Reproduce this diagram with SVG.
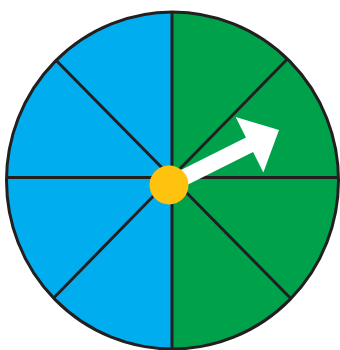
<svg xmlns="http://www.w3.org/2000/svg" width="340" height="350" viewBox="0 0 340 350">
  <style>
    .div { stroke: #231F20; stroke-width: 3; fill: none; }
  </style>
  <defs>
    <clipPath id="disc">
      <ellipse cx="172.5" cy="180.5" rx="166" ry="168.5"/>
    </clipPath>
  </defs>
  <rect width="340" height="350" fill="#ffffff"/>
  <g id="wheel">
    <g clip-path="url(#disc)">
      <rect x="0" y="0" width="172" height="350" fill="#00AEEF"/>
      <rect x="172" y="0" width="168" height="350" fill="#00A14B"/>
      <line class="div" x1="172" y1="0" x2="172" y2="350"/>
      <line class="div" x1="0" y1="177.5" x2="340" y2="177.5"/>
      <line class="div" x1="40" y1="44" x2="310" y2="318"/>
      <line class="div" x1="305" y1="41" x2="38" y2="314"/>
    </g>
    <ellipse class="div" cx="172.5" cy="180.5" rx="166" ry="168.5"/>
  </g>
  <g id="arrow" transform="translate(169,185) rotate(-26.57)">
    <polygon points="0,-8 90,-8 90,-31 123,0 90,31 90,8 0,8" fill="#ffffff"/>
  </g>
  <g id="hub">
    <circle cx="169" cy="185" r="19.5" fill="#FFC20E"/>
  </g>
</svg>
